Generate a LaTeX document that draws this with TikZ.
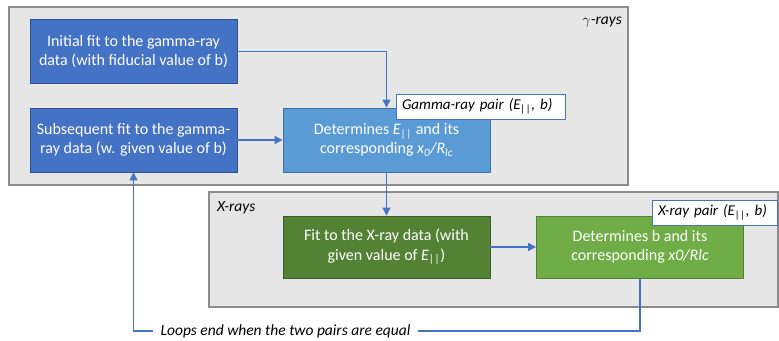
\documentclass[tikz,border=0pt]{standalone}
\usepackage{fontspec}
\setmainfont{Carlito}
\usetikzlibrary{arrows.meta}
\definecolor{panelfill}{HTML}{E6E6E6}
\definecolor{paneldraw}{HTML}{8C8C8C}
\definecolor{dkblue}{HTML}{4472C4}
\definecolor{dkblueb}{HTML}{2F528F}
\definecolor{ltblue}{HTML}{5B9BD5}
\definecolor{ltblueb}{HTML}{41719C}
\definecolor{dkgreen}{HTML}{548235}
\definecolor{dkgreenb}{HTML}{3B5E25}
\definecolor{ltgreen}{HTML}{70AD47}
\definecolor{ltgreenb}{HTML}{507E32}
\definecolor{arrowc}{HTML}{4472C4}
\newcommand{\Epar}{\textit{E\textsubscript{|\kern0.6pt|}}}
\begin{document}
\begin{tikzpicture}[x=1pt,y=-1pt,
  every node/.style={font=\fontsize{16}{19.5}\selectfont},
  panel/.style={fill=panelfill,draw=paneldraw,line width=1.1pt},
  procbox/.style={minimum width=207pt,minimum height=64pt,align=center,text=white,line width=0.9pt,inner sep=0pt},
  bluebox/.style={procbox,fill=dkblue,draw=dkblueb},
  midbluebox/.style={procbox,fill=ltblue,draw=ltblueb},
  greenbox/.style={procbox,fill=dkgreen,draw=dkgreenb,minimum height=62pt},
  ltgreenbox/.style={procbox,fill=ltgreen,draw=ltgreenb,minimum height=62pt},
  pairlabel/.style={fill=white,draw=dkblue,line width=1pt,minimum height=25pt,inner xsep=6pt,inner ysep=0pt,align=left,font=\fontsize{15}{17}\selectfont\itshape},
  paneltitle/.style={font=\fontsize{15.5}{17}\selectfont\itshape,inner sep=0pt},
  conn/.style={draw=arrowc,line width=1.2pt},
  arr/.style={conn,-{Triangle[length=8pt,width=8pt]}}
]
\useasboundingbox (0,0) rectangle (779,340);
% panels
\draw[panel] (9,7) rectangle (628,185);
\draw[panel] (209,192) rectangle (778,307);
\node[paneltitle,anchor=east] (gtitle) at (622,22) {$\gamma$-rays};
\node[paneltitle,anchor=west] (xtitle) at (217,208) {X-rays};
% boxes
\node[bluebox] (b1) at (133.5,51.5) {Initial fit to the gamma-ray\\data (with fiducial value of b)};
\node[bluebox] (b2) at (133.5,140) {Subsequent fit to the gamma-\\ray data (w. given value of b)};
\node[midbluebox] (b3) at (386.5,140) {Determines \Epar{} and its\\corresponding \textit{x\textsubscript{0}/R\textsubscript{lc}}};
\node[greenbox] (b4) at (386.5,247) {Fit to the X-ray data (with\\given value of \Epar)};
\node[ltgreenbox] (b5) at (640,247) {Determines b and its\\corresponding \textit{x0/Rlc}};
% pair labels
\node[pairlabel,minimum width=169pt,text width=157pt] (gpair) at (480.5,106.5) {\mbox{Gamma-ray pair (\Epar, b)}};
\node[pairlabel,minimum width=125pt,text width=113pt] (xpair) at (714.5,212.5) {\mbox{X-ray pair (\Epar, b)}};
% loop text
\node[font=\fontsize{15.5}{17}\selectfont\itshape,inner xsep=7pt,inner ysep=2pt] (loop) at (285.5,331) {Loops end when the two pairs are equal};
% connectors
\draw[arr] (b1.east) -| (b3.north);
\draw[arr] (b2.east) -- (b3.west);
\draw[arr] (b3.south) -- (b4.north);
\draw[arr] (b4.east) -- (b5.west);
\draw[conn] (b5.south) |- (loop.east);
\draw[arr] (loop.west) -| (b2.south);
\end{tikzpicture}
\end{document}
